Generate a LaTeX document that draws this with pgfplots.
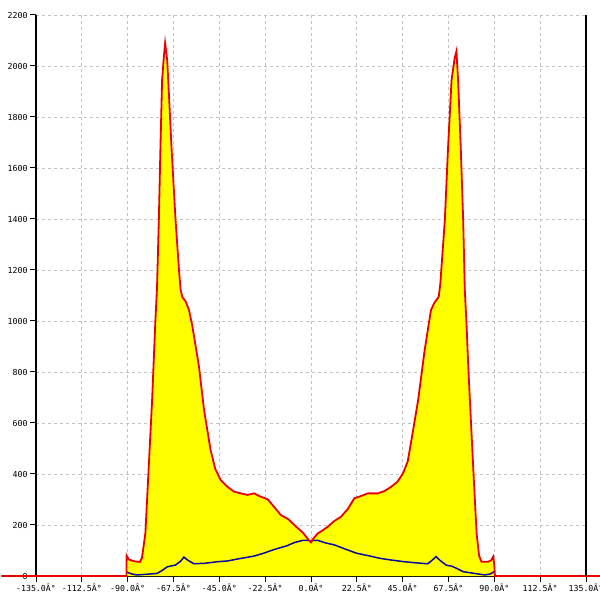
\documentclass[border=0pt]{standalone}
\usepackage{fontspec}
\setmainfont{DejaVu Sans Mono}
\usepackage{pgfplots}
\usepackage{pgfplotstable}
\pgfplotsset{compat=1.18}
\definecolor{redline}{RGB}{235,0,0}
\definecolor{blueline}{RGB}{10,10,160}
\definecolor{gridgray}{RGB}{195,195,195}
\definecolor{fillyellow}{RGB}{255,255,0}
\pgfplotstableread{
x y
-152 0
-90.6 0
-90.5 80
-89.5 65
-87 58
-84 55
-83 70
-81.3 168
-78 690
-76.4 1000
-75.6 1130
-74.7 1396
-73.9 1683
-73.1 1945
-72.2 2040
-71.6 2090
-70.6 2024
-69.5 1850
-68.5 1683
-66.5 1396
-64.8 1200
-64 1122
-63.2 1095
-61.5 1076
-59.9 1043
-58.2 978
-55 821
-52.5 651
-49.3 494
-47 420
-44.3 376
-41 350
-37.8 331
-34 323
-31.2 318
-27.9 324
-25 312
-21.3 301
-18 270
-14.8 239
-11 222
-8.2 200
-4 170
-0.8 138
0 132
1 145
3.3 167
5 175
8.2 193
11 213
14.8 233
18 262
21.3 305
24 312
27.9 324
32.8 324
36 333
39.4 350
42.5 370
45.2 403
47.5 450
49.3 533
52.6 690
55.8 886
57.6 978
58.9 1043
60.6 1072
62.7 1095
63.5 1148
65.7 1396
67.3 1683
69 1945
70.5 2030
71.4 2058
72.2 1945
73.5 1683
74.7 1396
75.5 1122
76.4 978
77.2 821
79.6 429
81.3 167
82.5 80
83.7 56
87 56
88.5 62
89.5 76
90 40
90.3 0
142.5 0
}\reddata
\pgfplotstableread{
x y
-90.3 15
-88 8
-85.5 4
-82 6
-78.8 8
-75.5 10
-73 22
-70.6 36
-66.5 43
-64 58
-62.4 74
-60.5 62
-57.5 48
-52 50
-46 56
-41 59
-34.5 69
-28 78
-23 90
-19.5 100
-16.4 108
-12 118
-8.2 131
-4 140
-1.6 140
0 136
1.5 140
3.3 140
7 130
11.5 122
17 105
22.5 89
28 80
34 69
40 62
45.8 56
51 52
57.3 48
59.5 62
61.4 76
63.5 60
66.5 42
69 39
71.5 30
74.7 17
78 13
82 8
85.4 4
88 8
90 17
}\bluedata
\begin{document}
\begin{tikzpicture}
\useasboundingbox (0,0) rectangle (600bp,600bp);
\begin{axis}[
  at={(36bp,24bp)}, anchor=south west,
  scale only axis, width=550bp, height=561bp,
  xmin=-135, xmax=135, ymin=0, ymax=2200,
  clip=false,
  axis lines=left,
  axis line style={-, black, line width=1.2bp},
  tick align=outside,
  major tick length=6bp,
  tick style={black, line width=1bp},
  xtick={-135,-112.5,-90,-67.5,-45,-22.5,0,22.5,45,67.5,90,112.5,135},
  xticklabels={-135.0Â°,-112.5Â°,-90.0Â°,-67.5Â°,-45.0Â°,-22.5Â°,0.0Â°,22.5Â°,45.0Â°,67.5Â°,90.0Â°,112.5Â°,135.0Â°},
  ytick={0,200,...,2200},
  /pgf/number format/1000 sep={},
  /pgf/number format/assume math mode=true,
  ticklabel style={font=\fontsize{8.3}{9}\selectfont, black},
  xticklabel style={yshift=2bp},
  yticklabel style={xshift=1bp},
  grid=major,
  major grid style={gridgray, line width=0.8bp, dash pattern=on 3bp off 3bp},
]
\addplot[draw=none, fill=fillyellow] table[x=x,y=y] {\reddata} \closedcycle;
\addplot[blueline, line width=1.5bp] table[x=x,y=y] {\bluedata};
\addplot[redline, line width=1.8bp] table[x=x,y=y] {\reddata};
\draw[black, line width=1.2bp] (rel axis cs:1,0) -- (rel axis cs:1,1);
\end{axis}
\end{tikzpicture}
\end{document}
